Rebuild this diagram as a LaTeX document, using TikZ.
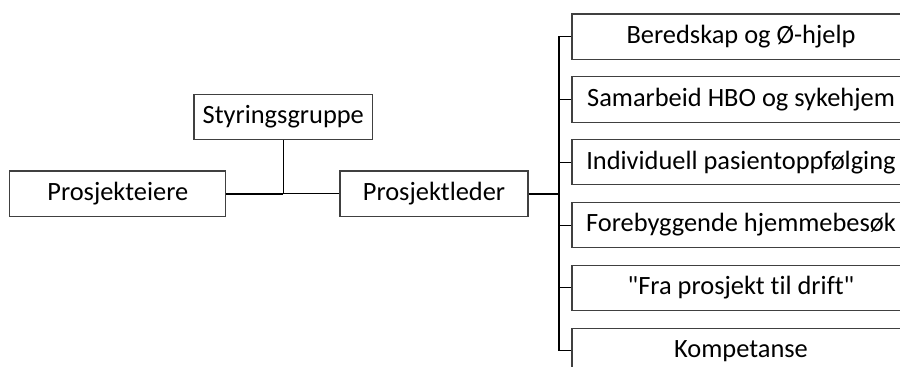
\documentclass[tikz,border=0pt]{standalone}
\usepackage{fontspec}
\setmainfont{Carlito}[Ligatures={TeXOff,CommonOff}]
\usetikzlibrary{positioning}

\begin{document}
\begin{tikzpicture}[x=0.75pt, y=-0.75pt,
        boks/.style={draw=black!75, line width=0.8pt, minimum height=34pt, inner sep=0pt, font=\fontsize{19.8}{24}\selectfont},
        linje/.style={line width=0.8pt, black}]
            % ramme for hele figuren
            \useasboundingbox (0,0) rectangle (900,367);
            \clip (0,0) rectangle (900,367);
            
            % venstre del
            \node[boks, minimum width=162pt] (eiere) at (117.8,193.7) {Prosjekteiere};
            \node[boks, minimum width=134pt] (styring) at (283.3,117) {Styringsgruppe};
            \node[boks, minimum width=141pt] (leder) at (434,193.7) {Prosjektleder};
            
            % kobling eiere - styringsgruppe - leder
            \coordinate (kryss) at (styring.south |- eiere.east);
            \draw[linje, line width=1.4pt] (eiere.east)--(kryss);
            \draw[linje] (kryss)--(leder.west);
            \draw[linje] (styring.south)--(kryss);
            
            % delprosjekter til hoyre
            \node[boks, minimum width=253.5pt] (beredskap) at (741,36.7) {Beredskap og Ø-hjelp};
            \node[boks, minimum width=253.5pt] (samarbeid) at (741,99.5) {Samarbeid HBO og sykehjem};
            \node[boks, minimum width=253.5pt] (oppfolging) at (741,162.3) {Individuell pasientoppfølging};
            \node[boks, minimum width=253.5pt] (forebygg) at (741,225.1) {Forebyggende hjemmebesøk};
            \node[boks, minimum width=253.5pt] (drift) at (741,287.9) {"Fra prosjekt til drift"};
            \node[boks, minimum width=253.5pt] (kompetanse) at (741,350.7) {Kompetanse};
            
            % samleskinne
            \coordinate (buss) at (559,193.7);
            \draw[linje, line width=1.4pt] (leder.east)--(buss);
            \draw[linje] (beredskap.west)-|(buss)|-(kompetanse.west);
            \draw[linje] (samarbeid.west)--(buss |- samarbeid.west);
            \draw[linje] (oppfolging.west)--(buss |- oppfolging.west);
            \draw[linje] (forebygg.west)--(buss |- forebygg.west);
            \draw[linje] (drift.west)--(buss |- drift.west);
        \end{tikzpicture}
\end{document}
